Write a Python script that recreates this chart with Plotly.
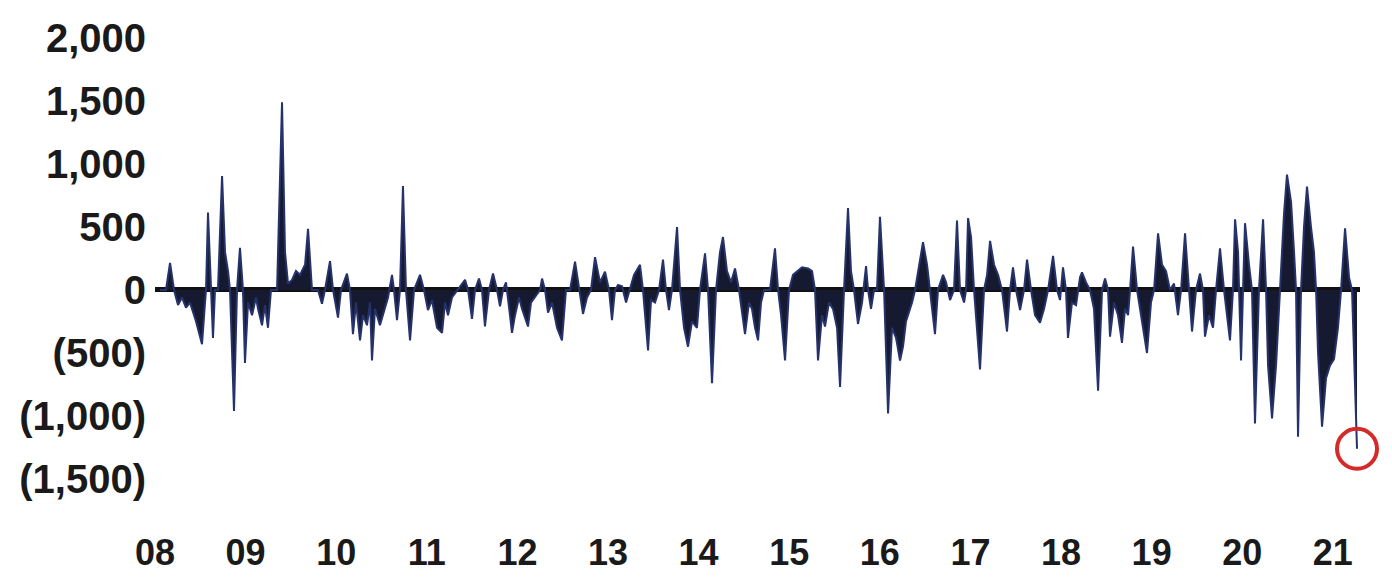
import plotly.graph_objects as go

# Time (decimal years) and weekly flow values
t_year = [
    2008.055, 2008.121, 2008.166, 2008.210, 2008.254, 2008.298, 2008.342, 2008.386, 2008.453, 2008.519,
    2008.552, 2008.563, 2008.585, 2008.618, 2008.640, 2008.662, 2008.695, 2008.740, 2008.773, 2008.806,
    2008.828, 2008.872, 2008.905, 2008.938, 2008.971, 2008.993, 2009.027, 2009.071, 2009.115, 2009.137,
    2009.181, 2009.214, 2009.247, 2009.280, 2009.347, 2009.402, 2009.435, 2009.468, 2009.512, 2009.556,
    2009.600, 2009.656, 2009.689, 2009.733, 2009.799, 2009.843, 2009.876, 2009.932, 2009.965, 2010.020,
    2010.053, 2010.119, 2010.152, 2010.185, 2010.219, 2010.263, 2010.296, 2010.340, 2010.373, 2010.395,
    2010.428, 2010.483, 2010.517, 2010.572, 2010.616, 2010.638, 2010.671, 2010.704, 2010.737, 2010.770,
    2010.815, 2010.859, 2010.925, 2010.969, 2011.013, 2011.057, 2011.113, 2011.168, 2011.201, 2011.234,
    2011.278, 2011.344, 2011.422, 2011.455, 2011.499, 2011.532, 2011.576, 2011.609, 2011.642, 2011.687,
    2011.731, 2011.775, 2011.808, 2011.841, 2011.874, 2011.918, 2011.940, 2011.974, 2012.018, 2012.051,
    2012.117, 2012.150, 2012.194, 2012.250, 2012.272, 2012.305, 2012.338, 2012.382, 2012.437, 2012.492,
    2012.536, 2012.581, 2012.636, 2012.680, 2012.724, 2012.768, 2012.812, 2012.857, 2012.912, 2012.967,
    2013.011, 2013.044, 2013.077, 2013.111, 2013.155, 2013.199, 2013.243, 2013.287, 2013.353, 2013.386,
    2013.442, 2013.475, 2013.519, 2013.563, 2013.607, 2013.640, 2013.673, 2013.706, 2013.762, 2013.795,
    2013.839, 2013.883, 2013.927, 2013.982, 2014.015, 2014.071, 2014.104, 2014.148, 2014.192, 2014.236,
    2014.269, 2014.313, 2014.358, 2014.402, 2014.446, 2014.512, 2014.556, 2014.589, 2014.623, 2014.656,
    2014.689, 2014.722, 2014.788, 2014.843, 2014.877, 2014.910, 2014.954, 2014.998, 2015.042, 2015.086,
    2015.141, 2015.208, 2015.252, 2015.285, 2015.318, 2015.362, 2015.395, 2015.439, 2015.483, 2015.528,
    2015.561, 2015.605, 2015.649, 2015.682, 2015.715, 2015.759, 2015.804, 2015.848, 2015.870, 2015.903,
    2015.936, 2015.969, 2016.002, 2016.047, 2016.091, 2016.135, 2016.179, 2016.223, 2016.256, 2016.289,
    2016.311, 2016.356, 2016.389, 2016.433, 2016.477, 2016.521, 2016.554, 2016.609, 2016.642, 2016.698,
    2016.731, 2016.775, 2016.819, 2016.852, 2016.885, 2016.930, 2016.952, 2016.974, 2017.007, 2017.040,
    2017.106, 2017.150, 2017.184, 2017.217, 2017.261, 2017.305, 2017.349, 2017.404, 2017.437, 2017.470,
    2017.503, 2017.548, 2017.592, 2017.625, 2017.669, 2017.713, 2017.768, 2017.813, 2017.857, 2017.912,
    2017.956, 2017.989, 2018.022, 2018.055, 2018.077, 2018.121, 2018.166, 2018.210, 2018.232, 2018.276,
    2018.320, 2018.364, 2018.409, 2018.453, 2018.486, 2018.519, 2018.541, 2018.585, 2018.629, 2018.673,
    2018.706, 2018.740, 2018.762, 2018.795, 2018.839, 2018.894, 2018.949, 2018.993, 2019.027, 2019.071,
    2019.115, 2019.159, 2019.203, 2019.247, 2019.291, 2019.325, 2019.369, 2019.413, 2019.446, 2019.490,
    2019.534, 2019.567, 2019.589, 2019.634, 2019.678, 2019.711, 2019.755, 2019.799, 2019.865, 2019.898,
    2019.921, 2019.954, 2019.987, 2020.009, 2020.031, 2020.075, 2020.108, 2020.141, 2020.185, 2020.230,
    2020.263, 2020.285, 2020.329, 2020.373, 2020.417, 2020.461, 2020.494, 2020.539, 2020.572, 2020.594,
    2020.616, 2020.649, 2020.682, 2020.715, 2020.759, 2020.792, 2020.815, 2020.837, 2020.881, 2020.925,
    2020.969, 2021.013, 2021.057, 2021.091, 2021.135, 2021.179, 2021.212, 2021.234, 2021.267,
]

flows = [
    0, 0, 215, 0, -120, -60, -140, -100, -250, -430,
    -100, 0, 615, 0, -380, 0, 0, 905, 300, 150,
    0, -960, 0, 335, 0, -580, -100, -200, -60, -150,
    -280, -120, -300, 0, 0, 1490, 300, 50, 80, 150,
    120, 200, 485, 0, 0, -110, 0, 230, 0, -220,
    0, 130, 0, -350, -100, -400, -200, -280, -100, -560,
    -150, -280, -200, -60, 120, 0, -240, 0, 825, 0,
    -400, 0, 120, 0, -160, -80, -300, -340, -100, -200,
    -60, 0, 80, 0, -230, 0, 90, 0, -290, 0,
    130, 0, -130, 0, 60, -200, -340, -200, -60, -150,
    -290, -100, -60, 0, 90, 0, -180, -100, -300, -400,
    0, 0, 225, 0, -190, -60, 0, 260, 60, 145,
    0, -240, 0, 40, 30, -100, 0, 120, 200, 0,
    -480, -80, -100, 0, 240, 0, -160, 0, 500, 0,
    -300, -450, -250, -300, 0, 290, 0, -740, 0, 300,
    420, 150, 60, 170, 0, -350, -100, -150, -300, -400,
    -100, 0, 0, 330, 0, -200, -560, 0, 120, 150,
    180, 170, 150, 0, -560, -200, -290, -100, -150, -300,
    -770, 0, 650, 150, 0, -270, -100, 190, 0, -150,
    0, 0, 580, 0, -980, -300, -380, -560, -450, -250,
    -200, -100, 0, 200, 380, 200, 0, -350, 0, 120,
    60, -80, 0, 550, 0, -100, 0, 570, 420, 0,
    -630, 0, 120, 390, 200, 120, 0, -330, 0, 180,
    0, -160, 0, 240, 0, -200, -260, -150, 0, 270,
    0, -80, 180, 0, -380, -100, -120, 100, 140, 60,
    0, -150, -800, 0, 90, 0, -370, -100, -200, -420,
    -150, -200, 0, 345, 0, -250, -500, -100, 0, 450,
    200, 150, 0, 50, -200, 0, 450, 0, -330, 0,
    130, 0, -370, -200, -300, 0, 330, 0, -400, 0,
    560, 300, -560, 0, 530, 200, 0, -1060, 0, 560,
    0, -600, -1020, -600, 0, 600, 915, 700, 300, 0,
    -1165, 0, 500, 820, 500, 300, 0, -500, -1085, -700,
    -600, -550, -300, 0, 490, 100, 0, -500, -1260,
]

year_ticks = list(range(2008, 2022))
year_labels = [f"{y % 100:02d}" for y in year_ticks]
value_ticks = [-1500, -1000, -500, 0, 500, 1000, 1500, 2000]
value_labels = ["(1,500)", "(1,000)", "(500)", "0", "500", "1,000", "1,500", "2,000"]

fig = go.Figure()
fig.add_trace(go.Scatter(
    x=t_year, y=flows, mode="lines", fill="tozeroy",
    line=dict(color="#26326a", width=2),
    fillcolor="#151a30", showlegend=False, hoverinfo="skip",
))
# highlight latest observation
fig.add_trace(go.Scatter(
    x=[t_year[-1]], y=[flows[-1]], mode="markers",
    marker=dict(symbol="circle-open", size=40, color="#d42a2a", line=dict(width=4, color="#d42a2a")),
    showlegend=False, cliponaxis=False, hoverinfo="skip",
))

# page body has an 8px margin, so the figure is sized to fit inside it
fig.update_layout(
    width=1384, height=574,
    margin=dict(l=147, r=32, t=22, b=54),
    paper_bgcolor="white", plot_bgcolor="white",
    font=dict(family="Liberation Sans, Arial, sans-serif", color="#1a1a1a"),
    xaxis=dict(
        range=[2008.0, 2021.30], tickvals=year_ticks, ticktext=year_labels,
        showgrid=False, zeroline=False, showline=False, ticks="",
        tickfont=dict(family="Liberation Sans, Arial", size=36, weight="bold"),
        automargin=False,
    ),
    yaxis=dict(
        range=[-1889, 2063], tickvals=value_ticks, ticktext=value_labels,
        showgrid=False, zeroline=True, zerolinecolor="#111111", zerolinewidth=5,
        showline=False, ticks="", layer="above traces",
        tickfont=dict(family="Liberation Sans, Arial", size=40, weight="bold"),
        ticklabelstandoff=8, automargin=False,
    ),
)

fig.write_html("out.html")
